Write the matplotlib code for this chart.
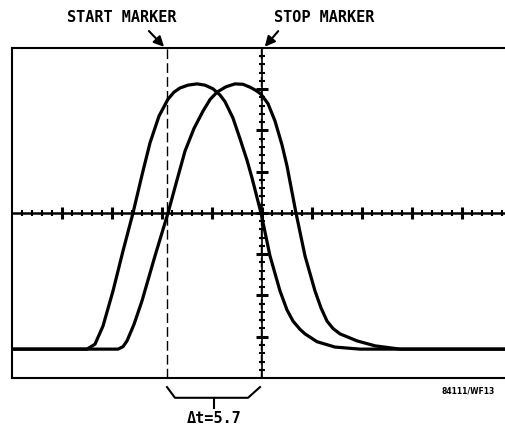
import numpy as np
import matplotlib
matplotlib.use("Agg")
import matplotlib.pyplot as plt

# graticule units: 10 divisions across, 8 divisions high (centre = 0)
# pulse
x1 = [0, 1.5, 1.66, 1.82, 2.02, 2.22, 2.42, 2.60, 2.76, 2.94, 3.12, 3.24, 3.36,
      3.52, 3.70, 3.86, 4.02, 4.16, 4.26, 4.42, 4.56, 4.70, 4.80, 4.98, 5.16,
      5.36, 5.50, 5.62, 5.76, 5.86, 6.10, 6.46, 6.96, 10]
y1 = [-3.30, -3.30, -3.18, -2.74, -1.89, -0.92, 0, 0.92, 1.70, 2.35, 2.76, 2.93, 3.03,
      3.10, 3.13, 3.10, 3.01, 2.86, 2.70, 2.30, 1.80, 1.28, 0.85, 0, -1.04,
      -1.89, -2.35, -2.62, -2.82, -2.93, -3.12, -3.25, -3.30, -3.30]

# pulse
x2 = [0, 2.12, 2.22, 2.30, 2.44, 2.60, 2.86, 3.12, 3.30, 3.46, 3.64, 3.82, 3.96,
      4.10, 4.28, 4.46, 4.62, 4.76, 4.88, 4.98, 5.12, 5.26, 5.40, 5.50, 5.68,
      5.86, 6.06, 6.18, 6.30, 6.42, 6.56, 6.90, 7.26, 7.76, 10]
y2 = [-3.30, -3.30, -3.24, -3.10, -2.70, -2.13, -1.04, 0, 0.80, 1.50, 2.05, 2.47, 2.75,
      2.93, 3.06, 3.13, 3.12, 3.05, 2.97, 2.88, 2.65, 2.23, 1.65, 1.14, 0,
      -1.04, -1.89, -2.30, -2.62, -2.80, -2.93, -3.10, -3.22, -3.30, -3.30]

start_marker = 3.10
stop_marker = 4.98
delta_t_label = "\u0394t=5.7"
start_label = "START MARKER"
stop_label = "STOP MARKER"
ref_label = "84111/WF13"

fig = plt.figure(figsize=(5.05, 4.25), dpi=100)
ax = fig.add_axes([12 / 505, 47 / 425, 500 / 505, 330 / 425])
ax.set_xlim(0, 10)
ax.set_ylim(-4, 4)
ax.set_xticks([])
ax.set_yticks([])
for s in ax.spines.values():
    s.set_linewidth(1.5)

font = dict(family="DejaVu Sans Mono", fontweight="bold", fontsize=11)

# centre axes of the graticule with their tick marks
ax.axhline(0, color="black", lw=1.8)
ax.axvline(5, color="black", lw=1.2)
hx = np.arange(0.2, 10, 0.2)
major = np.isclose(hx % 1, 0) | np.isclose(hx % 1, 1)
ax.plot(hx[~major], np.zeros((~major).sum()), "|", color="black", ms=4, mew=1.5)
ax.plot(hx[major], np.zeros(major.sum()), "|", color="black", ms=8, mew=2.2)
vy = np.arange(-3.8, 4, 0.2)
vmajor = np.isclose(np.abs(vy) % 1, 0) | np.isclose(np.abs(vy) % 1, 1)
ax.plot(np.full((~vmajor).sum(), 5), vy[~vmajor], "_", color="black", ms=4, mew=1.5)
ax.plot(np.full(vmajor.sum(), 5), vy[vmajor], "_", color="black", ms=8, mew=2.2)

# markers
ax.axvline(start_marker, color="black", lw=1.0, ls=(0, (7, 3)))
ax.axvline(stop_marker, color="black", lw=1.0, ls=(0, (7, 3)))

# traces
ax.plot(x1, y1, color="black", lw=2.3, solid_joinstyle="round", solid_capstyle="round")
ax.plot(x2, y2, color="black", lw=2.3, solid_joinstyle="round", solid_capstyle="round")

# labels and arrows above
ax.text(2.2, 4.75, start_label, ha="center", va="center", clip_on=False, **font)
ax.text(6.24, 4.75, stop_label, ha="center", va="center", clip_on=False, **font)
arrow = dict(arrowstyle="-|>,head_length=0.6,head_width=0.3", color="black", lw=1.5)
ax.annotate("", xy=(start_marker - 0.02, 3.98), xytext=(2.7, 4.46),
            arrowprops=arrow, annotation_clip=False)
ax.annotate("", xy=(stop_marker + 0.04, 3.98), xytext=(5.36, 4.46),
            arrowprops=arrow, annotation_clip=False)

# bracket showing the time difference
bx = [start_marker, start_marker + 0.16, stop_marker - 0.26, stop_marker - 0.02]
by = [-4.22, -4.48, -4.48, -4.22]
ax.plot(bx, by, color="black", lw=1.5, clip_on=False)
mid = (start_marker + stop_marker) / 2
ax.plot([mid, mid], [-4.48, -4.73], color="black", lw=1.5, clip_on=False)
ax.text(mid, -4.97, delta_t_label, ha="center", va="center", clip_on=False, **font)

ax.text(8.6, -4.32, ref_label, ha="left", va="center", clip_on=False,
        family="DejaVu Sans", fontweight="bold", fontsize=5.5)

fig.savefig("out.png", dpi=100)
